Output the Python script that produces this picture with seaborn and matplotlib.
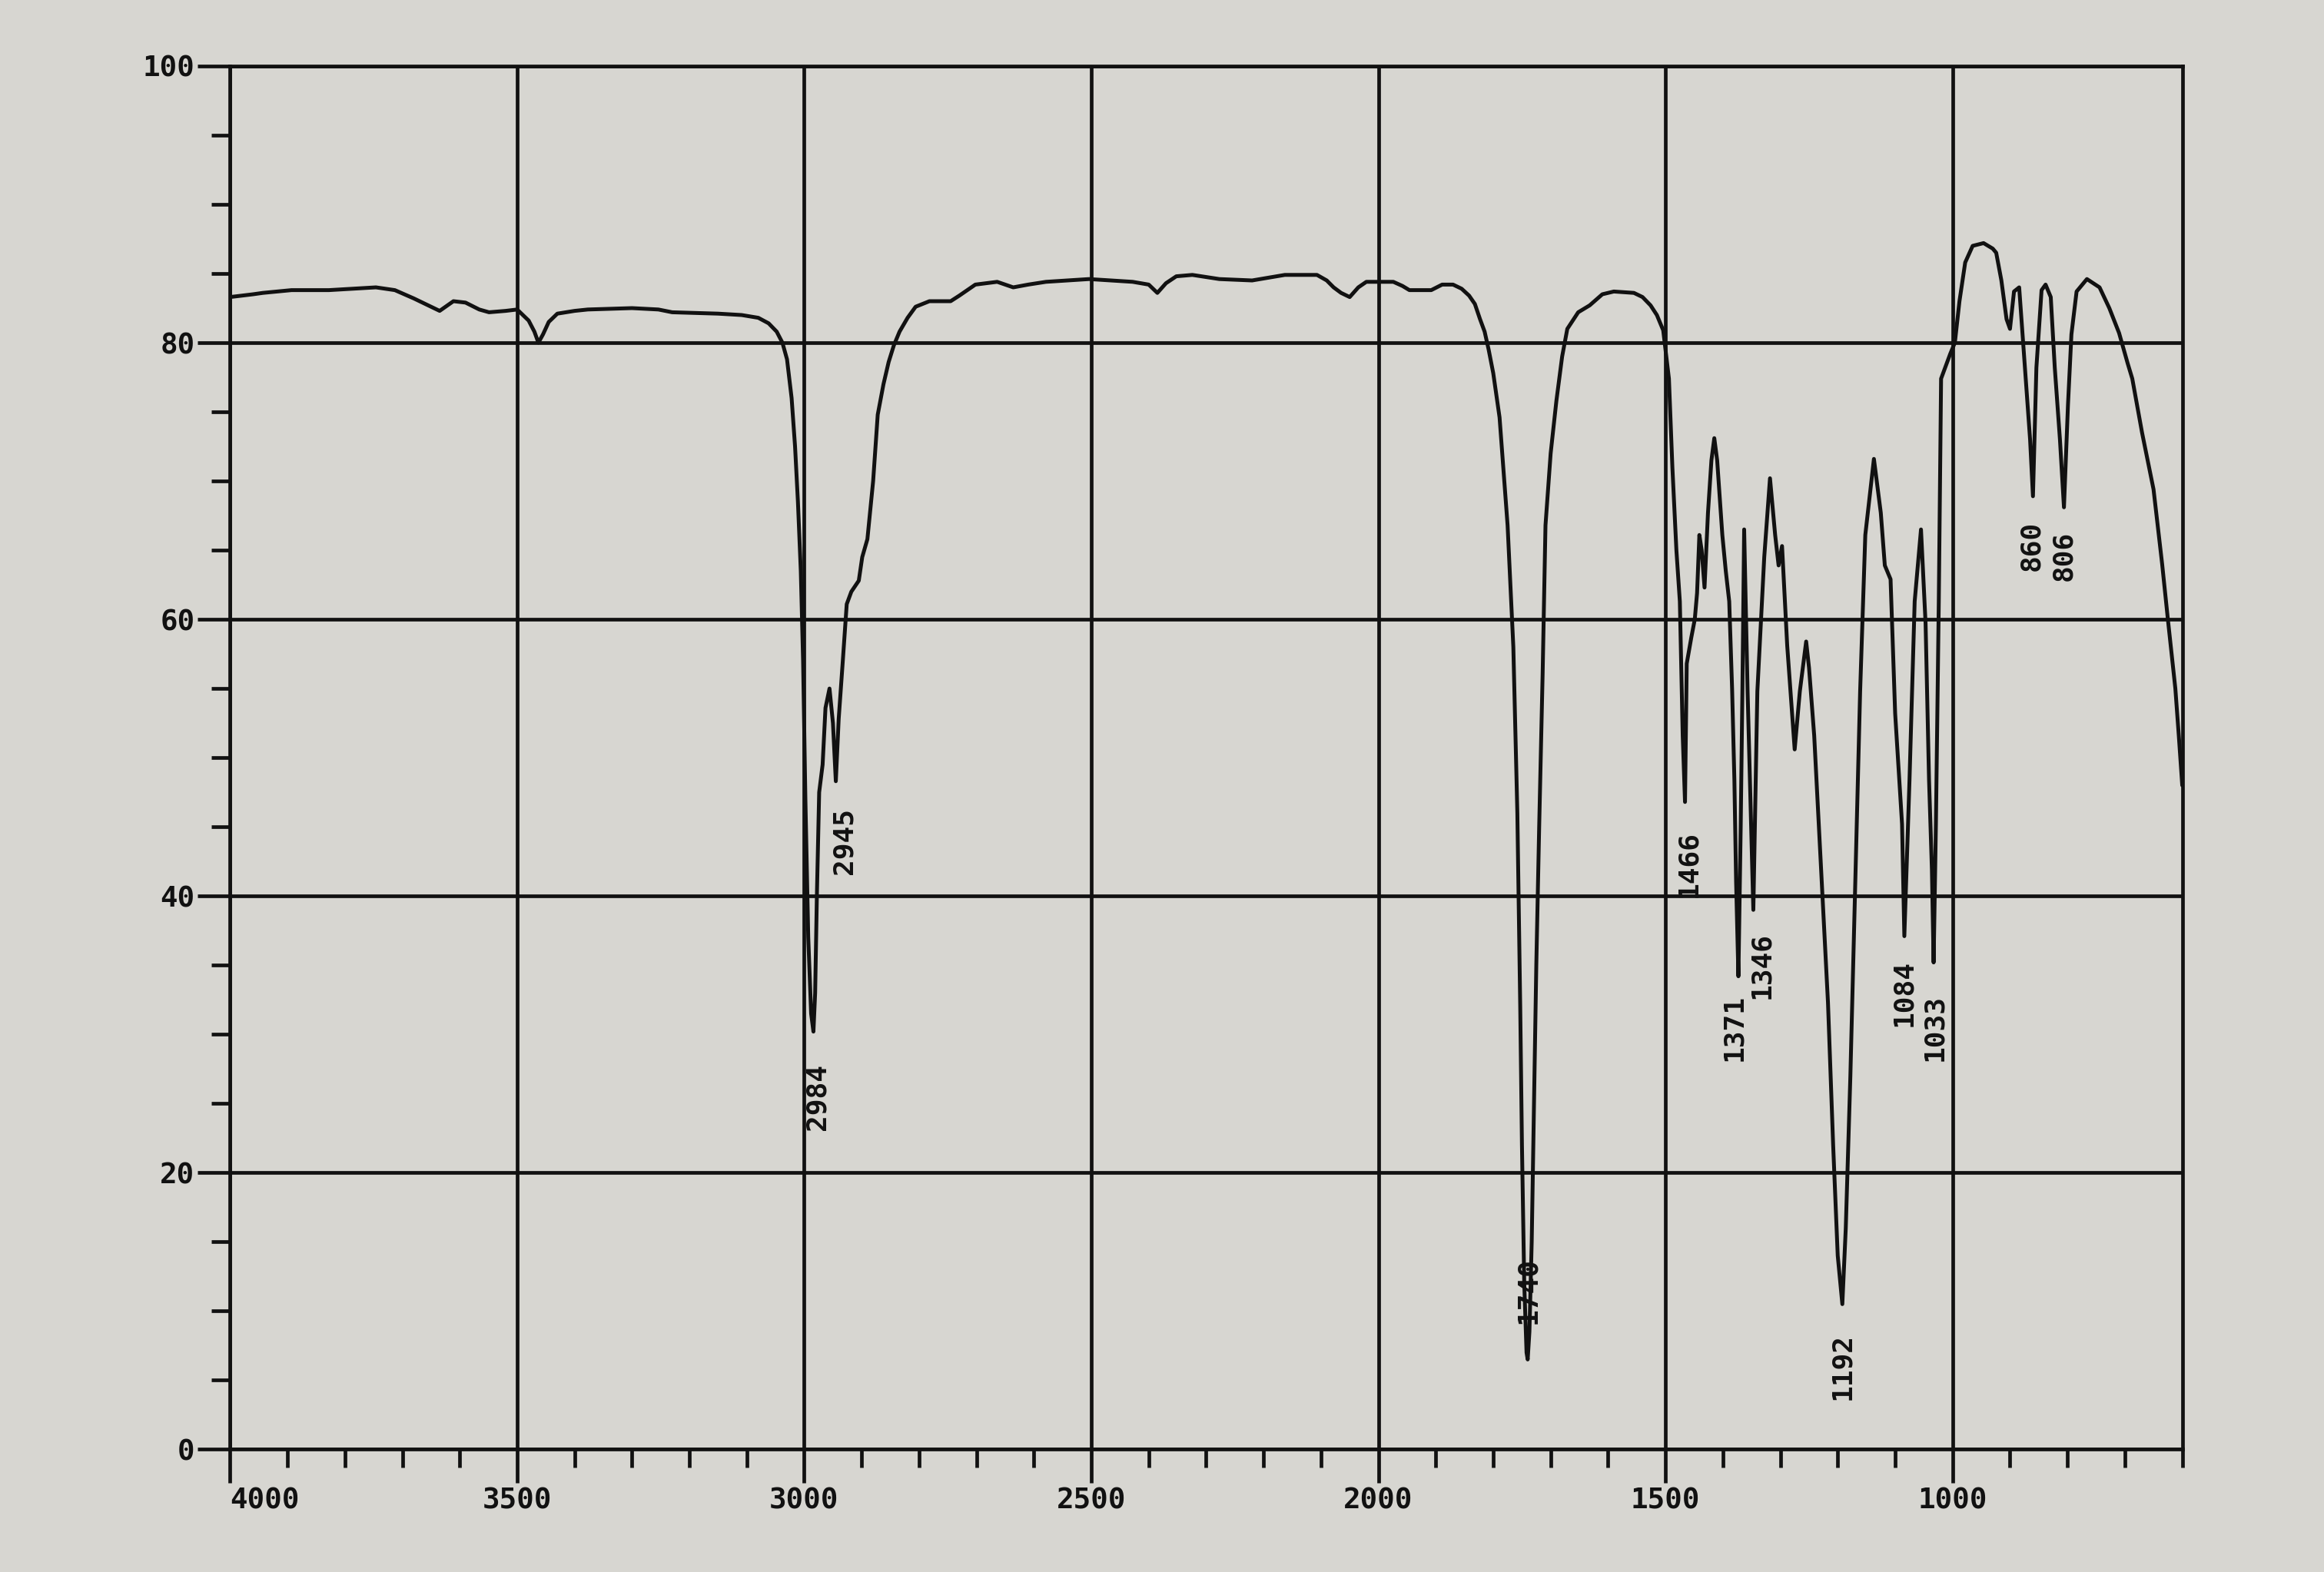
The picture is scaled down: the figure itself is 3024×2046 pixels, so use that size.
import numpy as np
import pandas as pd
import matplotlib
matplotlib.use("Agg")
import matplotlib.pyplot as plt
import seaborn as sns

# ---------------- data ----------------
wavenumber = [
    4000, 3960, 3943, 3893, 3828, 3746, 3713, 3680, 3655, 3635, 3611, 3590, 3566, 3549, 3520, 3500,
    3480, 3470, 3463, 3455, 3445, 3430, 3400, 3377, 3300, 3254, 3230, 3150, 3109, 3080, 3062, 3048,
    3038, 3030, 3022, 3016, 3011, 3006, 3002, 2998, 2993, 2988, 2984, 2981, 2978, 2974, 2968, 2963,
    2956, 2950, 2945, 2940, 2933, 2926, 2918, 2905, 2899, 2890, 2880, 2872, 2862, 2853, 2844, 2834,
    2820, 2806, 2782, 2745, 2730, 2702, 2664, 2636, 2610, 2579, 2504, 2428, 2400, 2385, 2370, 2352,
    2324, 2277, 2220, 2163, 2107, 2090, 2078, 2065, 2050, 2035, 2021, 1974, 1958, 1946, 1908, 1889,
    1870, 1855, 1842, 1832, 1823, 1815, 1808, 1800, 1789, 1775, 1765, 1758, 1753, 1750, 1746, 1742,
    1740, 1737, 1733, 1729, 1725, 1720, 1714, 1709, 1700, 1690, 1680, 1671, 1652, 1632, 1610, 1590,
    1555, 1540, 1526, 1515, 1504, 1500, 1494, 1488, 1481, 1475, 1470, 1466, 1463, 1455, 1449, 1445,
    1441, 1437, 1432, 1426, 1420, 1415, 1410, 1401, 1395, 1389, 1384, 1380, 1377, 1373, 1369, 1366,
    1363, 1357, 1347, 1340, 1328, 1318, 1309, 1303, 1297, 1288, 1275, 1266, 1255, 1250, 1241, 1229,
    1217, 1208, 1200, 1192, 1186, 1178, 1170, 1161, 1152, 1137, 1125, 1118, 1108, 1100, 1088, 1084,
    1075, 1066, 1055, 1047, 1041, 1036, 1033, 1029, 1024, 1020, 1012, 1004, 996, 988, 978, 965,
    946, 930, 924, 915, 906, 900, 893, 884, 874, 865, 860, 854, 845, 838, 829, 822,
    813, 806, 799, 793, 784, 766, 744, 727, 710, 695, 687, 670, 650, 635, 625, 612,
    606, 600,
]
transmittance = [
    83.3, 83.5, 83.6, 83.8, 83.8, 84.0, 83.8, 83.2, 82.7, 82.3, 83.0, 82.9, 82.4, 82.2, 82.3, 82.4,
    81.6, 80.8, 80.0, 80.6, 81.5, 82.1, 82.3, 82.4, 82.5, 82.4, 82.2, 82.1, 82.0, 81.8, 81.4, 80.8,
    80.0, 78.8, 76.0, 72.5, 68.5, 63.5, 57.0, 47.0, 37.0, 31.5, 30.2, 33.0, 40.0, 47.5, 49.5, 53.6,
    55.0, 52.5, 48.3, 52.8, 56.9, 61.1, 62.0, 62.8, 64.5, 65.8, 70.0, 74.8, 77.0, 78.6, 79.8, 80.8,
    81.8, 82.6, 83.0, 83.0, 83.4, 84.2, 84.4, 84.0, 84.2, 84.4, 84.6, 84.4, 84.2, 83.6, 84.3, 84.8,
    84.9, 84.6, 84.5, 84.9, 84.9, 84.5, 84.0, 83.6, 83.3, 84.0, 84.4, 84.4, 84.1, 83.8, 83.8, 84.2,
    84.2, 83.9, 83.4, 82.8, 81.7, 80.8, 79.5, 77.8, 74.6, 66.8, 58.0, 46.0, 32.0, 22.0, 12.0, 7.0,
    6.5, 8.5, 15.0, 25.0, 35.0, 45.0, 56.0, 66.8, 72.0, 75.8, 79.0, 81.0, 82.2, 82.7, 83.5, 83.7,
    83.6, 83.3, 82.7, 82.0, 80.9, 79.5, 77.4, 71.0, 65.0, 61.3, 51.6, 46.8, 56.8, 58.7, 60.0, 61.9,
    66.1, 65.0, 62.3, 67.7, 71.5, 73.1, 71.5, 66.1, 63.5, 61.3, 55.0, 48.4, 41.0, 34.2, 45.0, 55.0,
    66.5, 54.8, 39.0, 54.8, 64.5, 70.2, 66.1, 63.9, 65.3, 58.1, 50.6, 54.8, 58.4, 56.5, 51.6, 41.9,
    32.3, 22.0, 14.0, 10.5, 16.0, 27.0, 40.0, 54.8, 66.1, 71.6, 67.7, 63.9, 62.9, 53.2, 45.2, 37.1,
    48.4, 61.3, 66.5, 59.7, 48.4, 41.9, 35.2, 45.2, 61.3, 77.4, 78.3, 79.2, 80.0, 83.0, 85.8, 87.0,
    87.2, 86.8, 86.5, 84.5, 81.7, 81.0, 83.7, 84.0, 78.2, 73.0, 68.9, 78.2, 83.8, 84.2, 83.3, 78.2,
    73.0, 68.1, 75.5, 80.6, 83.7, 84.6, 84.0, 82.5, 80.7, 78.5, 77.4, 73.5, 69.4, 64.0, 60.0, 55.0,
    51.6, 48.0,
]

x_tick_values = [4000, 3500, 3000, 2500, 2000, 1500, 1000]
x_tick_labels = ["4000", "3500", "3000", "2500", "2000", "1500", "1000"]
y_tick_values = [0, 20, 40, 60, 80, 100]
y_tick_labels = ["0", "20", "40", "60", "80", "100"]

peak_labels = ["2984", "2945", "1740", "1466", "1371", "1346",
               "1192", "1084", "1033", "860", "806"]

# ---------------- layout / style ----------------
label_pos = {  # (x, y) anchor of each rotated peak label
    "2984": (2977, 25.5), "2945": (2930, 44.0), "1740": (1740, 11.5),
    "1466": (1460, 42.3), "1371": (1381, 30.5), "1346": (1333, 35.0),
    "1192": (1192, 6.0), "1084": (1085, 33.0), "1033": (1032, 30.5),
    "860": (863, 65.3), "806": (806, 64.6),
}
PAPER = "#d7d6d1"
INK = "#111111"
LW = 3.4

df = pd.DataFrame({"wavenumber": wavenumber, "transmittance": transmittance})

sns.set_theme(style="ticks")
plt.rcParams["font.family"] = ["DejaVu Sans Mono", "DejaVu Sans"]

fig = plt.figure(figsize=(30.24, 20.46), dpi=100, facecolor=PAPER)
ax = fig.add_axes([0.099, 0.078, 0.840, 0.880], facecolor=PAPER)

sns.lineplot(data=df, x="wavenumber", y="transmittance", ax=ax, color=INK,
             linewidth=3.6, estimator=None, sort=False)

ax.set_xlim(4000, 600)
ax.set_ylim(0, 100)
ax.set_xlabel("")
ax.set_ylabel("")

ax.set_xticks(x_tick_values)
ax.set_xticklabels(x_tick_labels)
ax.set_xticks(np.arange(600, 4001, 100), minor=True)
ax.set_yticks(y_tick_values)
ax.set_yticklabels(y_tick_labels)
ax.set_yticks(np.arange(0, 101, 5), minor=True)

ax.grid(True, which="major", color=INK, linewidth=LW)
ax.grid(False, which="minor")

ax.tick_params(axis="x", which="major", length=32, width=LW, color=INK,
               pad=3, labelsize=27, labelcolor=INK)
ax.tick_params(axis="x", which="minor", length=17, width=LW, color=INK)
ax.tick_params(axis="y", which="major", length=30, width=LW, color=INK,
               pad=3, labelsize=27, labelcolor=INK)
ax.tick_params(axis="y", which="minor", length=17, width=LW, color=INK)

for lbl in ax.get_xticklabels() + ax.get_yticklabels():
    lbl.set_fontweight("bold")
ax.get_xticklabels()[0].set_horizontalalignment("left")

for side in ["left", "right", "top", "bottom"]:
    ax.spines[side].set_visible(True)
    ax.spines[side].set_color(INK)
    ax.spines[side].set_linewidth(LW)

for lab in peak_labels:
    x, y = label_pos[lab]
    ax.text(x, y, lab, rotation=90, ha="center", va="center", fontsize=26,
            fontweight="bold", color=INK)

fig.savefig("out.png", dpi=100, facecolor=PAPER)
